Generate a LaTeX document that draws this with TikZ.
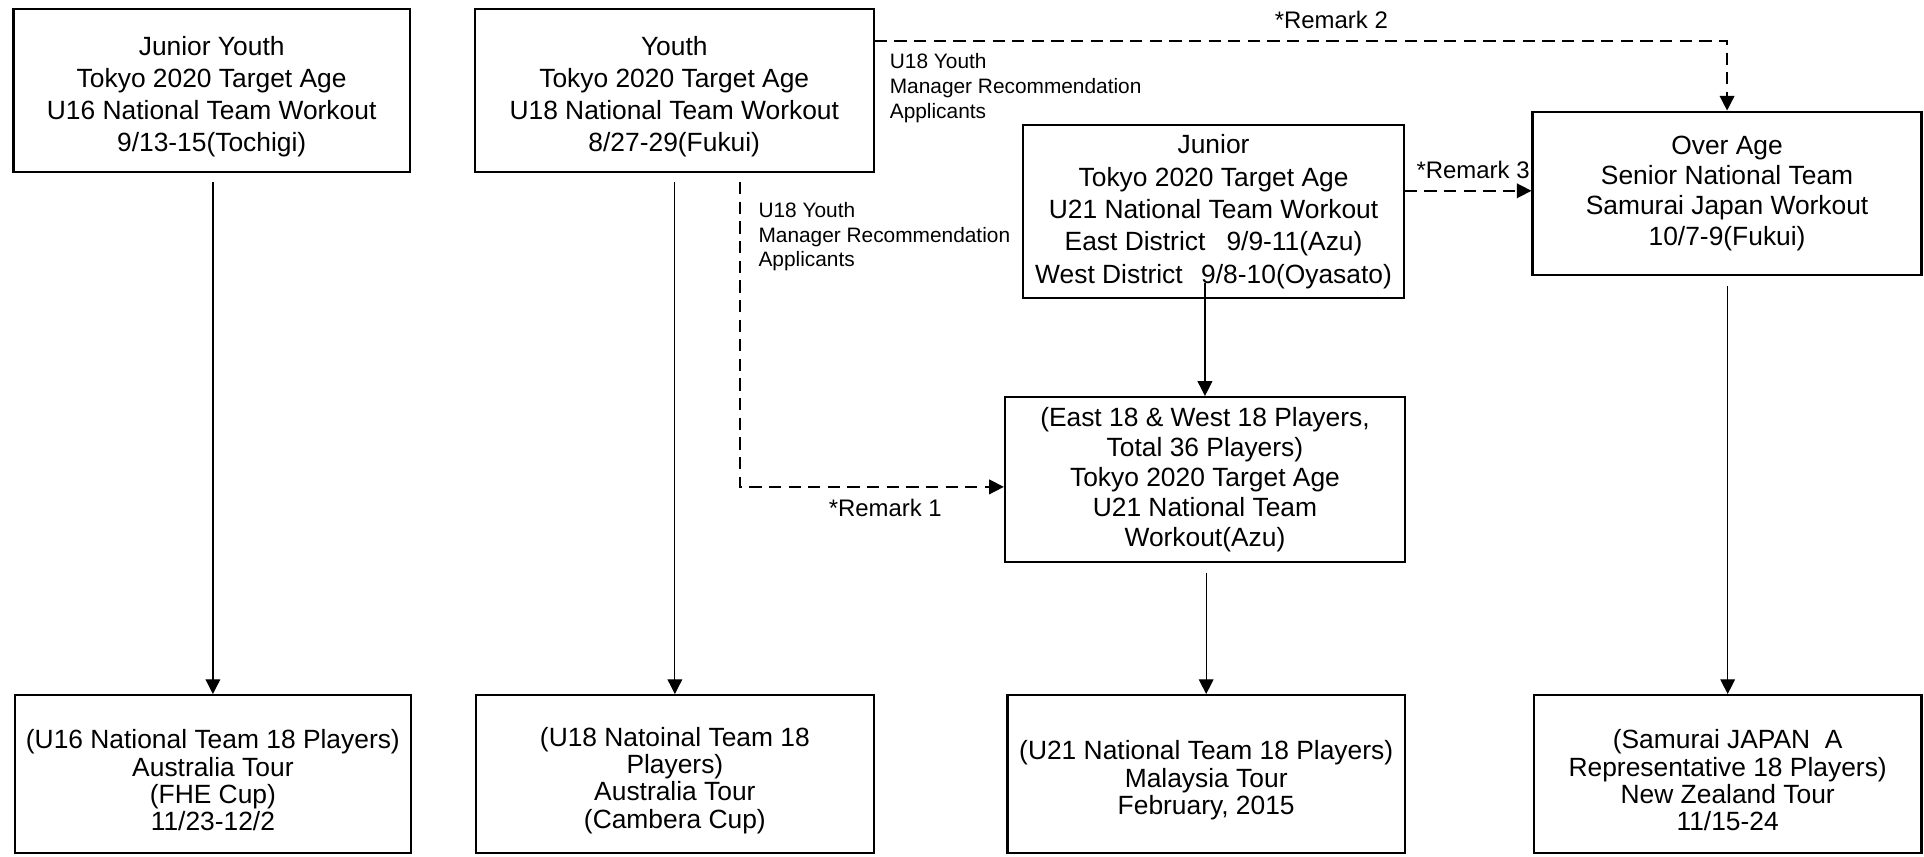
\documentclass[tikz,border=0pt]{standalone}
\usepackage{fontspec}
\setmainfont{Liberation Sans}
\usetikzlibrary{arrows.meta}
\newcommand{\lift}{\rule{0pt}{26pt}}

\begin{document}
\begin{tikzpicture}[x=1pt, y=-1pt, >={Triangle[length=12pt, width=12pt]},
    box/.style={draw, line width=1.8pt, align=center, inner sep=0pt, font=\fontsize{21.5}{26.3}\selectfont},
    tour/.style={box, font=\fontsize{21.5}{22.3}\selectfont},
    note/.style={align=left, anchor=west, inner sep=0pt, font=\fontsize{17}{20.2}\selectfont},
    remark/.style={inner sep=0pt, font=\fontsize{19.5}{22}\selectfont},
    solidarr/.style={->, line width=1pt},
    dasharr/.style={->, line width=1.3pt, dash pattern=on 10pt off 6pt},
    vh/.style={to path={|- (\tikztotarget) \tikztonodes}},
    hv/.style={to path={-| (\tikztotarget) \tikztonodes}}]
            \useasboundingbox (0, 0) rectangle (1568, 698);
            \node[box, minimum width=323pt, minimum height=132.7pt] (jy) at (172.5, 73.65) {\lift Junior Youth\\Tokyo 2020 Target Age\\U16 National Team Workout\\9/13-15(Tochigi)};
            \node[box, minimum width=325pt, minimum height=132.7pt] (youth) at (549.5, 73.65) {\lift Youth\\Tokyo 2020 Target Age\\U18 National Team Workout\\8/27-29(Fukui)};
            \node[box, minimum width=310pt, minimum height=141pt] (junior) at (989, 172.5) {Junior\\Tokyo 2020 Target Age\\U21 National Team Workout\\East District\hspace{0.8em}9/9-11(Azu)\\West District\hspace{0.7em}9/8-10(Oyasato)};
            \node[box, font=\fontsize{21.5}{24.8}\selectfont, minimum width=317pt, minimum height=133pt] (overage) at (1407.5, 157.5) {Over Age\\Senior National Team\\Samurai Japan Workout\\10/7-9(Fukui)};
            \node[box, font=\fontsize{21.5}{24.5}\selectfont, minimum width=326pt, minimum height=134.4pt] (east) at (982, 390.8) {(East 18 \& West 18 Players,\\Total 36 Players)\\Tokyo 2020 Target Age\\U21 National Team\\Workout(Azu)};
            \node[tour, minimum width=323pt, minimum height=128.5pt] (b1) at (173.5, 630.75) {\lift(U16 National Team 18 Players)\\Australia Tour\\(FHE Cup)\\11/23-12/2};
            \node[tour, minimum width=324pt, minimum height=128.5pt] (b2) at (550, 630.75) {\lift(U18 Natoinal Team 18\\Players)\\Australia Tour\\(Cambera Cup)};
            \node[tour, minimum width=324pt, minimum height=128.5pt] (b3) at (983, 630.75) {\lift(U21 National Team 18 Players)\\Malaysia Tour\\February, 2015};
            \node[tour, minimum width=316pt, minimum height=128.5pt] (b4) at (1408, 630.75) {\lift(Samurai JAPAN\ \ A\\Representative 18 Players)\\New Zealand Tour\\11/15-24};
            \node[note] (n2) at (725, 72) {U18 Youth\\Manager Recommendation\\Applicants};
            \node[note] (n1) at (618, 193) {U18 Youth\\Manager Recommendation\\Applicants};
            \node[remark] (r1) at (721.5, 414) {*Remark 1};
            \node[remark] (r2) at (1085, 16) {*Remark 2};
            \node[remark] (r3) at (1200.5, 138.5) {*Remark 3};
            \path[solidarr]
                (b1.north |- jy.south) edge[shorten <=7.5pt] (b1.north)
                (b2.north |- youth.south) edge[shorten <=7.5pt] (b2.north)
                ([yshift=13pt]east.north |- junior.south) edge (east.north)
                (b3.north |- east.south) edge[shorten <=8pt] (b3.north)
                (b4.north |- overage.south) edge[shorten <=8pt] (b4.north)
            ;
            \path[dasharr]
                ([yshift=-27pt]youth.north east) edge[hv] (overage.north)
                ([xshift=53.5pt, yshift=-7.5pt]youth.south) edge[vh] ([yshift=-6pt]east.west)
                ([yshift=2pt]junior.east |- overage.west) edge ([yshift=2pt]overage.west)
            ;
\end{tikzpicture}
\end{document}
